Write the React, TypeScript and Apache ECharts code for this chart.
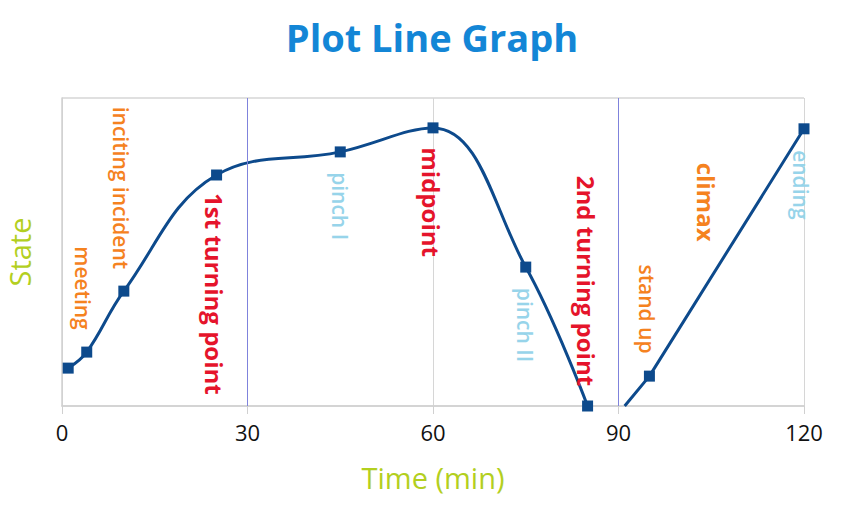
import React, { useEffect, useRef } from "react";
import * as echarts from "echarts";

const storyTimes = [1, 4, 10, 25, 45, 60, 75, 85];
const storyState = [12.3, 17.5, 37.3, 75, 82.5, 90.3, 45.1, 0];
const endTimes = [91, 95, 120];
const endState = [0, 9.7, 90];

const xTicks = [0, 30, 60, 90, 120];
const actBreaks = [30, 90];

const annoText = [
  "meeting",
  "inciting incident",
  "1st turning point",
  "pinch I",
  "midpoint",
  "pinch II",
  "2nd turning point",
  "stand up",
  "climax",
  "ending",
];
const annoX = [3.4, 9.5, 24.6, 45, 59.8, 74.9, 84.9, 94.6, 104.3, 119.5];
const annoY = [38.3, 70.8, 36.4, 64.9, 66.2, 26.3, 40.6, 31.5, 66.2, 71.8];
const annoKind = ["minor", "minor", "major", "pinch", "major", "pinch", "major", "minor", "climax", "pinch"];

const kindStyle: Record<string, any> = {
  minor: { color: "#f5821f", fontSize: 21, fontWeight: 600 },
  major: { color: "#e5142b", fontSize: 24, fontWeight: "bold" },
  pinch: { color: "#97d4ea", fontSize: 21, fontWeight: 600 },
  climax: { color: "#f5821f", fontSize: 24, fontWeight: "bold" },
};

const LINE = "#0d4a8c";
const FONT = "'Open Sans', 'Noto Sans', sans-serif";

export default function App() {
  const ref = useRef<HTMLDivElement>(null);
  useEffect(() => {
    if (!ref.current) return;
    const chart = echarts.init(ref.current, null, { renderer: "svg" });
    chart.setOption({
      animation: false,
      backgroundColor: "#ffffff",
      textStyle: { fontFamily: FONT },
      title: {
        text: "Plot Line Graph",
        left: "center",
        top: 13,
        textStyle: { color: "#1386d6", fontSize: 38, fontWeight: "bold", fontFamily: FONT },
      },
      grid: { left: 62, right: 60, top: 98, bottom: 118, outerBoundsMode: "none", containLabel: false },
      xAxis: {
        type: "value",
        min: 0,
        max: 120,
        interval: 30,
        name: "Time (min)",
        nameLocation: "middle",
        nameGap: 57,
        nameTextStyle: { color: "#b3cf1f", fontSize: 29, fontFamily: FONT },
        axisLine: { show: true, lineStyle: { color: "#d0d0d0", width: 1.5 } },
        axisTick: { show: true, length: 8, lineStyle: { color: "#d0d0d0" } },
        axisLabel: {
          color: "#111",
          fontSize: 22,
          margin: 15,
          fontFamily: FONT,
          formatter: (v: number) => (xTicks.includes(v) ? String(v) : ""),
        },
        splitLine: { show: true, lineStyle: { color: "#d6d6d6", width: 1 } },
      },
      yAxis: {
        type: "value",
        min: 0,
        max: 100,
        interval: 100,
        name: "State",
        nameLocation: "middle",
        nameGap: 28,
        nameTextStyle: { color: "#b3cf1f", fontSize: 29, fontFamily: FONT },
        axisLine: { show: true, lineStyle: { color: "#d0d0d0", width: 1.5 } },
        axisTick: { show: false },
        axisLabel: { show: false },
        splitLine: { show: true, lineStyle: { color: "#d6d6d6", width: 1.5 } },
      },
      series: [
        {
          type: "line",
          smooth: 0.4,
          data: storyTimes.map((t, i) => [t, storyState[i]]),
          symbol: "rect",
          symbolSize: 11,
          itemStyle: { color: LINE },
          lineStyle: { color: LINE, width: 3 },
          z: 3,
          markLine: {
            silent: true,
            symbol: "none",
            label: { show: false },
            lineStyle: { color: "#7f83dc", width: 1, type: "solid" },
            data: actBreaks.map((x) => ({ xAxis: x })),
          },
        },
        {
          type: "line",
          data: endTimes.map((t, i) =>
            i === 0 ? { value: [t, endState[i]], symbol: "none" } : [t, endState[i]]
          ),
          symbol: "rect",
          symbolSize: 11,
          itemStyle: { color: LINE },
          lineStyle: { color: LINE, width: 3 },
          z: 3,
        },
        {
          type: "scatter",
          symbolSize: 1,
          itemStyle: { color: "rgba(0,0,0,0)" },
          z: 4,
          data: annoText.map((txt, i) => ({
            value: [annoX[i], annoY[i]],
            name: txt,
            label: {
              show: true,
              position: "inside",
              rotate: -90,
              formatter: txt,
              align: "center",
              verticalAlign: "middle",
              opacity: 1,
              textBorderWidth: 0,
              fontFamily: FONT,
              ...kindStyle[annoKind[i]],
            },
          })),
        },
      ],
    });
    return () => chart.dispose();
  }, []);
  return (
    <div
      ref={ref}
      style={{ position: "fixed", left: 0, top: 0, width: 864, height: 524 }}
    />
  );
}
